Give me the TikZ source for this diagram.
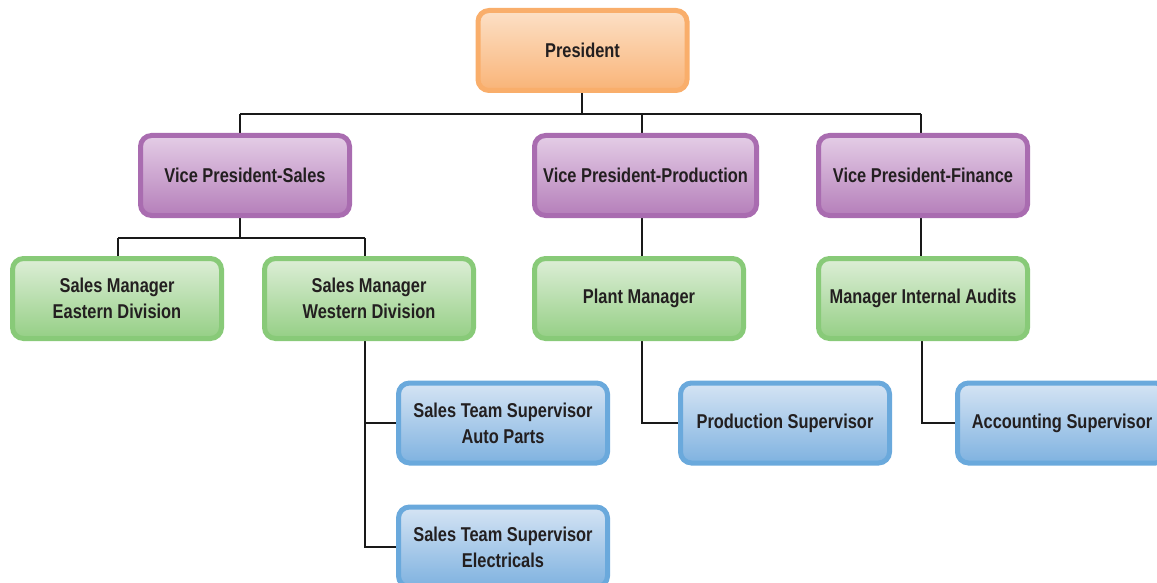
\documentclass[tikz,border=0pt]{standalone}
\usepackage{fontspec}
\setmainfont[FakeStretch=0.82]{Liberation Sans}
\usetikzlibrary{backgrounds}
\definecolor{txt}{HTML}{231F20}
\definecolor{orB}{HTML}{F9AE6B}\definecolor{orT}{HTML}{FCE0C6}\definecolor{orD}{HTML}{F9B478}
\definecolor{puB}{HTML}{A96CB0}\definecolor{puT}{HTML}{E4CDE6}\definecolor{puD}{HTML}{B57FBA}
\definecolor{grB}{HTML}{88CA78}\definecolor{grT}{HTML}{DDEED7}\definecolor{grD}{HTML}{95CF85}
\definecolor{blB}{HTML}{6AA9DC}\definecolor{blT}{HTML}{D5E4F4}\definecolor{blD}{HTML}{7FB2E0}
\tikzset{
  box/.style={rectangle, rounded corners=11pt, line width=5pt, minimum width=209pt, minimum height=80pt,
    align=center, text=txt, font=\fontsize{20}{26}\selectfont\bfseries, inner sep=2pt},
  orbox/.style={box, draw=orB, top color=orT, bottom color=orD},
  pubox/.style={box, draw=puB, top color=puT, bottom color=puD},
  grbox/.style={box, draw=grB, top color=grT, bottom color=grD},
  blbox/.style={box, draw=blB, top color=blT, bottom color=blD},
  conn/.style={line width=2.8pt, draw=black!90}
}
\begin{document}
\begin{tikzpicture}[x=1pt,y=-1pt]
\useasboundingbox (0,0) rectangle (1157,583);
\begin{scope}
\clip (0,0) rectangle (1157,583);
\node[orbox] (pres) at (582.5,50.5) {President};
\node[pubox] (vps) at (245,175.5) {Vice President-Sales};
\node[pubox, minimum width=222pt] (vpp) at (645.5,175.5) {Vice President-Production};
\node[pubox] (vpf) at (923,175.5) {Vice President-Finance};
\node[grbox] (sme) at (117,298.5) {Sales Manager\\Eastern Division};
\node[grbox] (smw) at (369,298.5) {Sales Manager\\Western Division};
\node[grbox] (pm) at (639,298.5) {Plant Manager};
\node[grbox] (mia) at (923,298.5) {Manager Internal Audits};
\node[blbox] (sta) at (503,423) {Sales Team Supervisor\\Auto Parts};
\node[blbox] (ste) at (503,547) {Sales Team Supervisor\\Electricals};
\node[blbox] (ps) at (785,423) {Production Supervisor};
\node[blbox] (as) at (1062,423) {Accounting Supervisor};

\coordinate (j0) at (582,114);
\coordinate (ja) at (240,114);
\coordinate (jb) at (642,114);
\coordinate (jc) at (921,114);
\coordinate (j1) at (240,238);
\coordinate (j1a) at (118,238);
\coordinate (j1b) at (365,238);
\coordinate (jw) at (365,423);
\coordinate (je) at (365,547);
\coordinate (jp) at (642,423);
\coordinate (jf) at (922,423);

\begin{pgfonlayer}{background}
\draw[conn] (582,80) -- (j0);
\draw[conn] (ja) -- (jc);
\draw[conn] (ja) -- (240,140);
\draw[conn] (jb) -- (642,140);
\draw[conn] (jc) -- (921,140);
\draw[conn] (240,210) -- (j1);
\draw[conn] (j1a) -- (j1b);
\draw[conn] (j1a) -- (118,262);
\draw[conn] (j1b) -- (365,262);
\draw[conn] (642,210) -- (642,262);
\draw[conn] (921,210) -- (921,262);
\draw[conn] (365,335) -- (je) -- (ste.west);
\draw[conn] (jw) -- (sta.west);
\draw[conn] (642,335) -- (jp) -- (ps.west);
\draw[conn] (922,335) -- (jf) -- (as.west);
\end{pgfonlayer}
\end{scope}
\end{tikzpicture}
\end{document}
